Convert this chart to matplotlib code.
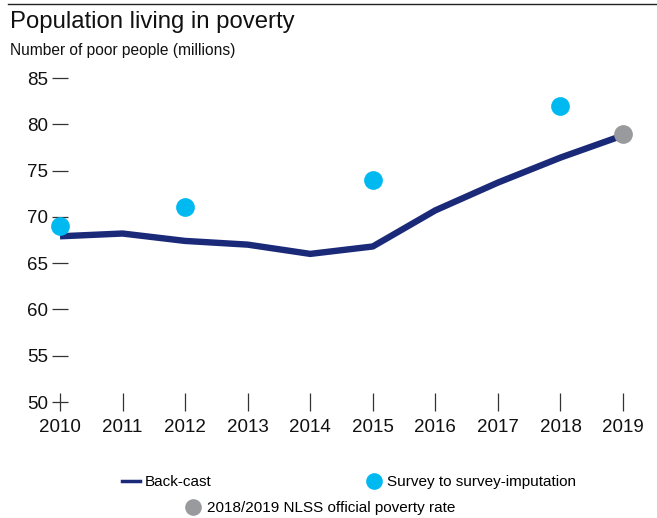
import matplotlib
matplotlib.use("Agg")
import matplotlib.pyplot as plt
from matplotlib.lines import Line2D

plt.rcParams['font.family'] = ['Liberation Sans', 'DejaVu Sans']

years = [2010, 2011, 2012, 2013, 2014, 2015, 2016, 2017, 2018, 2019]
backcast = [67.9, 68.2, 67.4, 67.0, 66.0, 66.8, 70.7, 73.7, 76.4, 78.8]
survey_years = [2010, 2012, 2015, 2018]
survey_vals = [69.0, 71.1, 74.0, 82.0]
official_years = [2019]
official_vals = [79.0]
yticks = [50, 55, 60, 65, 70, 75, 80, 85]

navy = '#1b2a78'
cyan = '#00b9f1'
grey = '#999a9e'

fig = plt.figure(figsize=(6.57, 5.18), dpi=100)
W, H = 657, 518
ax = fig.add_axes([60 / W, 1 - 402 / H, (623 - 60) / W, (402 - 78) / H])

ax.plot(years, backcast, color=navy, lw=4.6, solid_capstyle='butt', clip_on=False, zorder=2)
ax.plot(survey_years, survey_vals, 'o', color=cyan, ms=13.5, mew=0, clip_on=False, zorder=3)
ax.plot(official_years, official_vals, 'o', color=grey, ms=13.5, mew=0, clip_on=False, zorder=3)

ax.set_xlim(2010, 2019)
ax.set_ylim(50, 85)
ax.set_xticks(years)
ax.set_yticks(yticks)
for s in ax.spines.values():
    s.set_visible(False)
ax.tick_params(axis='both', direction='inout', width=0.9, color='#333333',
               labelsize=13.5, labelcolor='#111111')
ax.tick_params(axis='x', length=12.5, pad=6)
ax.tick_params(axis='y', length=11, pad=3)

# top rule, title and subtitle
fig.add_artist(Line2D([8 / W, 1], [1 - 4 / H, 1 - 4 / H], color='#222222', lw=1))
fig.text(10 / W, 1 - 22 / H, 'Population living in poverty', fontsize=17.2,
         va='center', ha='left', color='#111111')
fig.text(10 / W, 1 - 50 / H, 'Number of poor people (millions)', fontsize=11.2,
         va='center', ha='left', color='#111111')

# legend rows
h_line = Line2D([], [], color=navy, lw=2.5)
h_cyan = Line2D([], [], marker='o', ls='none', color=cyan, ms=12, mew=0)
h_grey = Line2D([], [], marker='o', ls='none', color=grey, ms=12, mew=0)
leg_kw = dict(frameon=False, fontsize=11, handlelength=1.2, handletextpad=0.3,
              borderaxespad=0, borderpad=0)
fig.legend([h_line, h_cyan], ['Back-cast', 'Survey to survey-imputation'], ncol=2,
           columnspacing=10.0, loc='center left', bbox_to_anchor=(122 / W, 1 - 482 / H), **leg_kw)
fig.legend([h_grey], ['2018/2019 NLSS official poverty rate'],
           loc='center left', bbox_to_anchor=(184 / W, 1 - 508 / H), **leg_kw)

fig.savefig('out.png', dpi=100)
